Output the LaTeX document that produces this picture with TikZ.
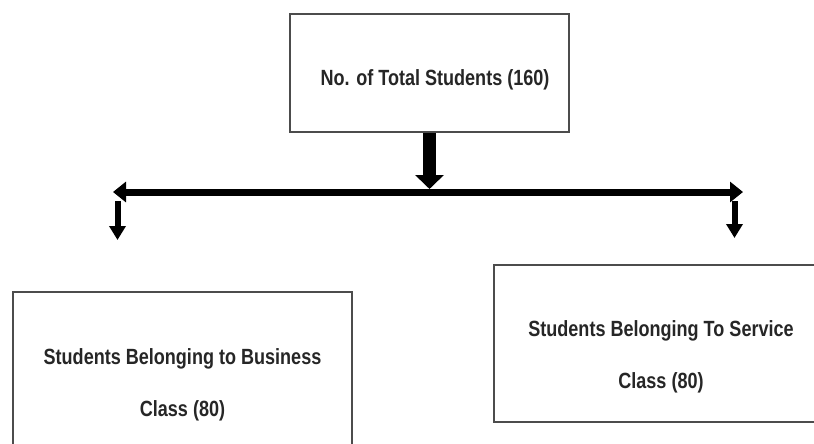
\documentclass[tikz,border=0pt]{standalone}
\usepackage{fontspec}
\setmainfont{Liberation Sans}[FakeStretch=0.82]
\usepackage{tikz}
\usetikzlibrary{positioning, arrows.meta}

\tikzset{
  box/.style = {draw = black!70, line width = 1.5pt, fill = white, inner sep = 0pt},
  caption/.style = {align = center, font = \fontsize{22pt}{52pt}\selectfont\bfseries, text = black!85},
  bigarrow/.style = {line width = 13pt, -{Triangle[width = 28pt, length = 14pt]}},
  bararrow/.style = {line width = 7pt, {Triangle[width = 20pt, length = 13pt]}-{Triangle[width = 20pt, length = 13pt]}},
  smallarrow/.style = {line width = 6pt, -{Triangle[width = 16pt, length = 14pt]}}
}

\begin{document}
\begin{tikzpicture}[x = 1pt, y = -1pt]
\useasboundingbox (0, 0) rectangle (814, 444);
\clip (0, 0) rectangle (814, 444);
\node [box, minimum width = 279pt, minimum height = 118pt] (total) at (429.5, 73) {};
\node [caption] (totaltext) at (435, 80) {No. of Total Students (160)};
\node [box, minimum width = 339pt, minimum height = 188pt] (business) at (182.5, 386) {};
\node [caption] (businesstext) at (182.5, 385) {Students Belonging to Business\\Class (80)};
\node [box, minimum width = 334pt, minimum height = 157pt] (service) at (661, 343.5) {};
\node [caption] (servicetext) at (661, 357) {Students Belonging To Service\\Class (80)};
\coordinate (barleft) at (113, 192);
\coordinate (barright) at (743, 192);
\coordinate (bartop) at (total.south |- 0, 189);
\coordinate (lefttop) at (117.5, 201);
\coordinate (lefttip) at (117.5, 240);
\coordinate (righttop) at (734.5, 201);
\coordinate (righttip) at (734.5, 238);
\draw [bigarrow] (total.south) -- (bartop);
\draw [bararrow] (barleft) -- (barright);
\draw [smallarrow] (lefttop) -- (lefttip);
\draw [smallarrow] (righttop) -- (righttip);
\end{tikzpicture}
\end{document}
